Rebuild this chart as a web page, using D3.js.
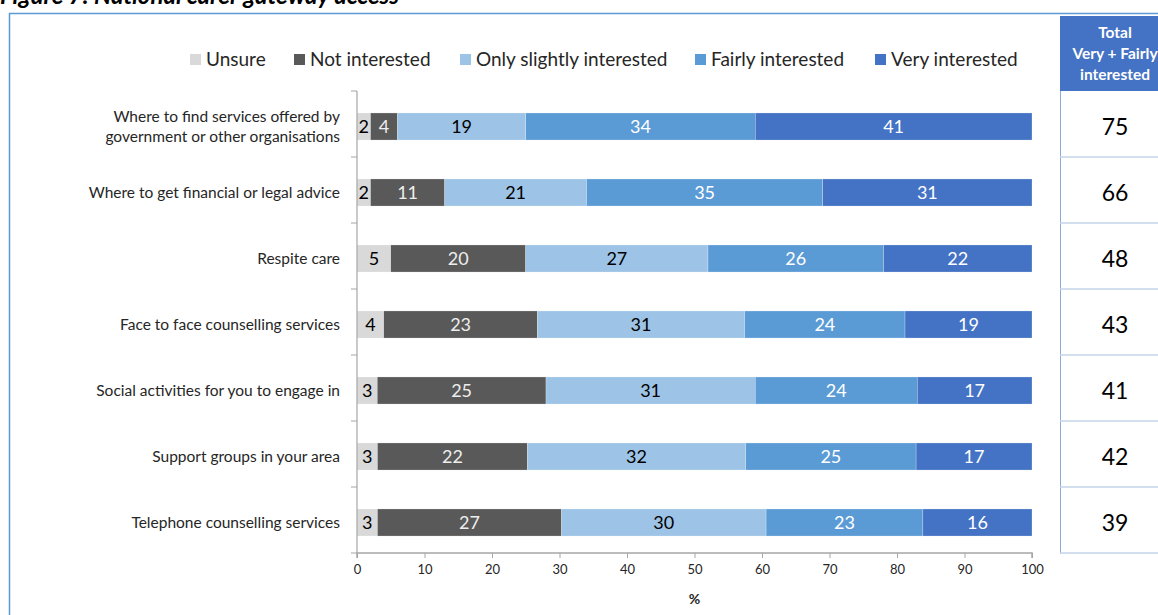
<!DOCTYPE html>
<html><head><meta charset="utf-8">
<script src="https://cdn.jsdelivr.net/npm/d3@7"></script>
<style>
html,body{margin:0;padding:0;background:#fff;overflow:hidden;}
svg{display:block;font-family:Lato,"Open Sans",sans-serif;}
</style></head>
<body>
<svg id="chart" width="1158" height="615"></svg>
<script>
const categories = [
  ["Where to find services offered by","government or other organisations"],
  ["Where to get financial or legal advice"],
  ["Respite care"],
  ["Face to face counselling services"],
  ["Social activities for you to engage in"],
  ["Support groups in your area"],
  ["Telephone counselling services"]
];
const seriesNames = ["Unsure","Not interested","Only slightly interested","Fairly interested","Very interested"];
const unsure        = [2, 2, 5, 4, 3, 3, 3];
const notInterested = [4, 11, 20, 23, 25, 22, 27];
const slightly      = [19, 21, 27, 31, 31, 32, 30];
const fairly        = [34, 35, 26, 24, 24, 25, 23];
const very          = [41, 31, 22, 19, 17, 17, 16];
const totals        = [75, 66, 48, 43, 41, 42, 39];
const xTicks        = [0,10,20,30,40,50,60,70,80,90,100];
const tableHeader   = ["Total","Very + Fairly","interested"];

const colors = ["#d9d9d9","#595959","#9dc3e6","#5b9bd5","#4472c4"];
const labelColors = ["#000","#eeeeee","#000","#fff","#fff"];
const seriesData = [unsure, notInterested, slightly, fairly, very];

const rows = categories.map((c,i)=>{
  const o = {idx:i};
  seriesNames.forEach((s,j)=>{o[s]=seriesData[j][i];});
  return o;
});

const svg = d3.select("#chart");
const margin = {left:357, right:1032, top:91, bottom:553};

const x = d3.scaleLinear().domain([0,100]).range([margin.left, margin.right]);
const y = d3.scaleBand().domain(d3.range(categories.length)).range([margin.top+2.5, margin.bottom+2.5]).paddingInner(0.59).paddingOuter(0.295);

// title
svg.append("text").attr("x",0).attr("y",4)
  .attr("font-weight","bold").attr("font-style","italic").attr("font-size",24)
  .attr("fill","#000").text("Figure 7: National carer gateway access");

// outer frame
svg.append("path").attr("d","M9.5,615 V13.5 H1158").attr("fill","none").attr("stroke","#5b9bd5").attr("stroke-width",1.5);

// stacked
const stack = d3.stack().keys(seriesNames).offset(d3.stackOffsetExpand);
const stacked = stack(rows);

const groups = svg.append("g").selectAll("g").data(stacked).join("g")
  .attr("fill",(d,i)=>colors[i]);
groups.selectAll("rect").data(d=>d).join("rect")
  .attr("x",d=>x(d[0]*100))
  .attr("width",d=>x(d[1]*100)-x(d[0]*100))
  .attr("y",(d,i)=>y(i))
  .attr("height",y.bandwidth())
  .attr("stroke","#ffffff").attr("stroke-width",0.4).attr("stroke-opacity",0.6);

groups.each(function(s,si){
  d3.select(this).selectAll("text").data(s).join("text")
    .attr("x",d=>x((d[0]+d[1])/2*100))
    .attr("y",(d,i)=>y(i)+y.bandwidth()/2)
    .attr("dy","0.36em")
    .attr("text-anchor","middle")
    .attr("font-size",18)
    .attr("fill",labelColors[si])
    .text(d=>d.data[s.key]);
});

// axes
const xAxis = svg.append("g").attr("transform",`translate(0,${margin.bottom})`)
  .call(d3.axisBottom(x).tickValues(xTicks).tickSize(5).tickPadding(7));
xAxis.select(".domain").attr("stroke","#a6a6a6").attr("stroke-width",1.5).attr("d",`M${margin.left},5V0H${margin.right}V5`);
xAxis.selectAll(".tick line").attr("stroke","#a6a6a6").attr("stroke-width",1);
xAxis.selectAll(".tick text").attr("font-size",13).attr("fill","#262626").attr("font-family","Lato,sans-serif");

const bounds = d3.range(categories.length+1).map(i=> margin.top + i*(margin.bottom-margin.top)/categories.length);
const yAxisG = svg.append("g");
yAxisG.append("line").attr("x1",margin.left).attr("x2",margin.left).attr("y1",margin.top).attr("y2",margin.bottom)
  .attr("stroke","#a6a6a6").attr("stroke-width",1.2);
yAxisG.selectAll(".yt").data(bounds).join("line").attr("class","yt")
  .attr("x1",margin.left-6).attr("x2",margin.left).attr("y1",d=>d).attr("y2",d=>d)
  .attr("stroke","#a6a6a6").attr("stroke-width",1);

// category labels
categories.forEach((lines,i)=>{
  const cy = y(i)+y.bandwidth()/2;
  const t = svg.append("text").attr("text-anchor","end").attr("font-size",15.5).attr("fill","#262626");
  lines.forEach((l,k)=>{
    t.append("tspan").attr("x",340).attr("y",cy + (k-(lines.length-1)/2)*20.5).attr("dy","0.35em").text(l);
  });
});

// x axis title
svg.append("text").attr("x",x(50)).attr("y",604).attr("text-anchor","middle")
  .attr("font-weight","bold").attr("font-size",14).attr("fill","#262626").text("%");

// legend
const legendX = [190, 294, 460, 695, 875];
const lg = svg.append("g");
seriesNames.forEach((s,i)=>{
  lg.append("rect").attr("x",legendX[i]).attr("y",54).attr("width",11).attr("height",11).attr("fill",colors[i]);
  lg.append("text").attr("x",legendX[i]+16).attr("y",59.5).attr("dy","0.35em").attr("font-size",19).attr("fill","#262626").text(s);
});

// table
const tx0 = 1060;
svg.append("rect").attr("x",tx0).attr("y",16).attr("width",120).attr("height",75).attr("fill","#4472c4");
tableHeader.forEach((h,k)=>{
  svg.append("text").attr("x",1115).attr("y",33+k*21).attr("text-anchor","middle")
    .attr("font-weight","bold").attr("font-size",15.5).attr("fill","#fff").attr("dy","0.35em").text(h);
});
svg.append("line").attr("x1",tx0+0.5).attr("x2",tx0+0.5).attr("y1",91).attr("y2",554).attr("stroke","#8eaadb").attr("stroke-width",1);
svg.selectAll(".hb").data(bounds.slice(1)).join("line").attr("class","hb")
  .attr("x1",tx0).attr("x2",1158).attr("y1",d=>d).attr("y2",d=>d)
  .attr("stroke","#c5d3ea").attr("stroke-width",1.5);
svg.selectAll(".tv").data(totals).join("text").attr("class","tv")
  .attr("x",1115).attr("y",(d,i)=>y(i)+y.bandwidth()/2).attr("dy","0.36em")
  .attr("text-anchor","middle").attr("font-size",23).attr("fill","#000").text(d=>d);
</script>
</body></html>
